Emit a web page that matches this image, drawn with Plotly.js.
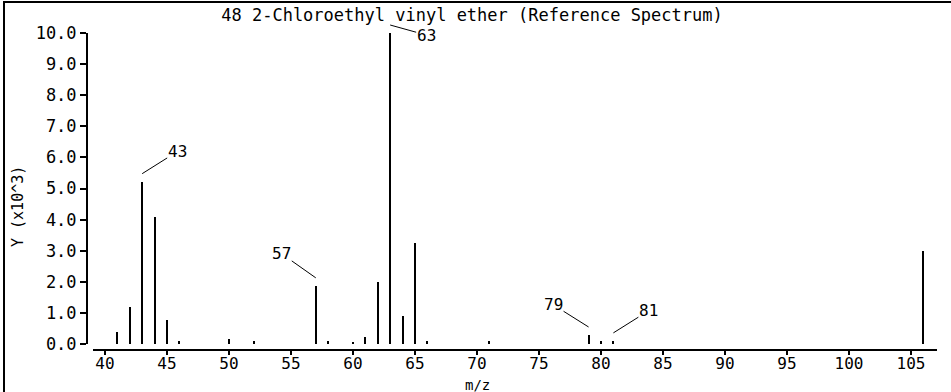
<!DOCTYPE html>
<html>
<head>
<meta charset="utf-8">
<script src="https://cdn.plot.ly/plotly-3.0.1.min.js"></script>
<style>
html,body{margin:0;padding:0;background:#fff;}
#wrap{position:relative;width:951px;height:392px;overflow:hidden;}
#chart{width:951px;height:392px;}
#frame{position:absolute;left:3px;top:1px;width:960px;height:400px;border-top:2px solid #000;border-left:2px solid #000;pointer-events:none;}
</style>
</head>
<body>
<div id="wrap"><div id="chart"></div><div id="frame"></div></div>
<script>
// m/z values and intensities (x10^3)
const mz = [41, 42, 43, 44, 45, 46, 50, 52, 57, 58, 60, 61, 62, 63, 64, 65, 66, 71, 79, 80, 81, 106];
const intensity = [0.40, 1.20, 5.22, 4.09, 0.77, 0.10, 0.15, 0.10, 1.87, 0.10, 0.05, 0.23, 2.00, 10.0, 0.90, 3.24, 0.10, 0.10, 0.29, 0.10, 0.10, 2.99];
const labelledPeaks = [43, 57, 63, 79, 81];
const yTicks = [0, 1, 2, 3, 4, 5, 6, 7, 8, 9, 10];
const xTicks = [40, 45, 50, 55, 60, 65, 70, 75, 80, 85, 90, 95, 100, 105];
const titleText = "48 2-Chloroethyl vinyl ether (Reference Spectrum)";

const FONT = "DejaVu Sans Mono, Liberation Mono, monospace";
// label offsets (pixel styles)
const labelOffsets = {43: [35, -22], 57: [-34, -24], 63: [36, 10], 79: [-35, -22], 81: [35, -22]};

const annotations = labelledPeaks.map(p => {
  const i = mz.indexOf(p);
  const off = labelOffsets[p];
  return {
    x: mz[i], y: intensity[i], xref: 'x', yref: 'y',
    text: String(p), showarrow: true, arrowhead: 0, arrowwidth: 1, arrowcolor: '#000',
    ax: off[0], ay: off[1], yshift: 8, standoff: 0, borderpad: 0,
    font: {family: FONT, size: 16, color: '#000'}
  };
});
annotations.push({
  text: 'Y (x10^3)', textangle: -90, xref: 'paper', yref: 'paper',
  x: (18 - 87) / 850, y: (350 - 207) / 317, showarrow: false,
  xanchor: 'center', yanchor: 'middle',
  font: {family: FONT, size: 15, color: '#000'}
});
annotations.push({
  text: 'm/z', xref: 'paper', yref: 'paper',
  x: (477 - 87) / 850, y: (350 - 385) / 317, showarrow: false,
  xanchor: 'center', yanchor: 'middle', borderpad: 0,
  font: {family: FONT, size: 14, color: '#000'}
});

const trace = {
  type: 'bar', x: mz, y: intensity, width: 0.16,
  marker: {color: '#000', line: {width: 0}},
  hoverinfo: 'x+y'
};

const layout = {
  width: 951, height: 392,
  margin: {l: 87, r: 14, t: 33, b: 42, pad: 0},
  paper_bgcolor: '#fff', plot_bgcolor: '#fff',
  showlegend: false,
  title: {text: titleText, font: {family: FONT, size: 17, color: '#000'},
          x: 472 / 951, xref: 'container', xanchor: 'center',
          y: 1 - 15 / 392, yref: 'container', yanchor: 'middle'},
  xaxis: {
    range: [38.55, 107.1], tickvals: xTicks, ticktext: xTicks.map(String),
    ticks: 'outside', ticklen: 4, tickwidth: 2, tickcolor: '#000',
    ticklabelstandoff: -5,
    showline: false, showgrid: false, zeroline: false,
    tickfont: {family: FONT, size: 16, color: '#000'}, fixedrange: true
  },
  yaxis: {
    range: [-0.193, 10], tickvals: yTicks, ticktext: yTicks.map(v => v.toFixed(1)),
    ticks: 'outside', ticklen: 6, tickwidth: 2, tickcolor: '#000',
    showline: false, showgrid: false, zeroline: false,
    tickfont: {family: FONT, size: 17, color: '#000'}, fixedrange: true
  },
  shapes: [
    {type: 'line', xref: 'paper', yref: 'y', x0: 0, x1: 0, y0: 0, y1: 10, line: {color: '#000', width: 2}},
    {type: 'line', xref: 'paper', yref: 'paper', x0: 6 / 850, x1: 1, y0: 0, y1: 0, line: {color: '#000', width: 2}}
  ],
  annotations: annotations,
  bargap: 0
};

Plotly.newPlot('chart', [trace], layout, {displayModeBar: false, staticPlot: true});
</script>
</body>
</html>
